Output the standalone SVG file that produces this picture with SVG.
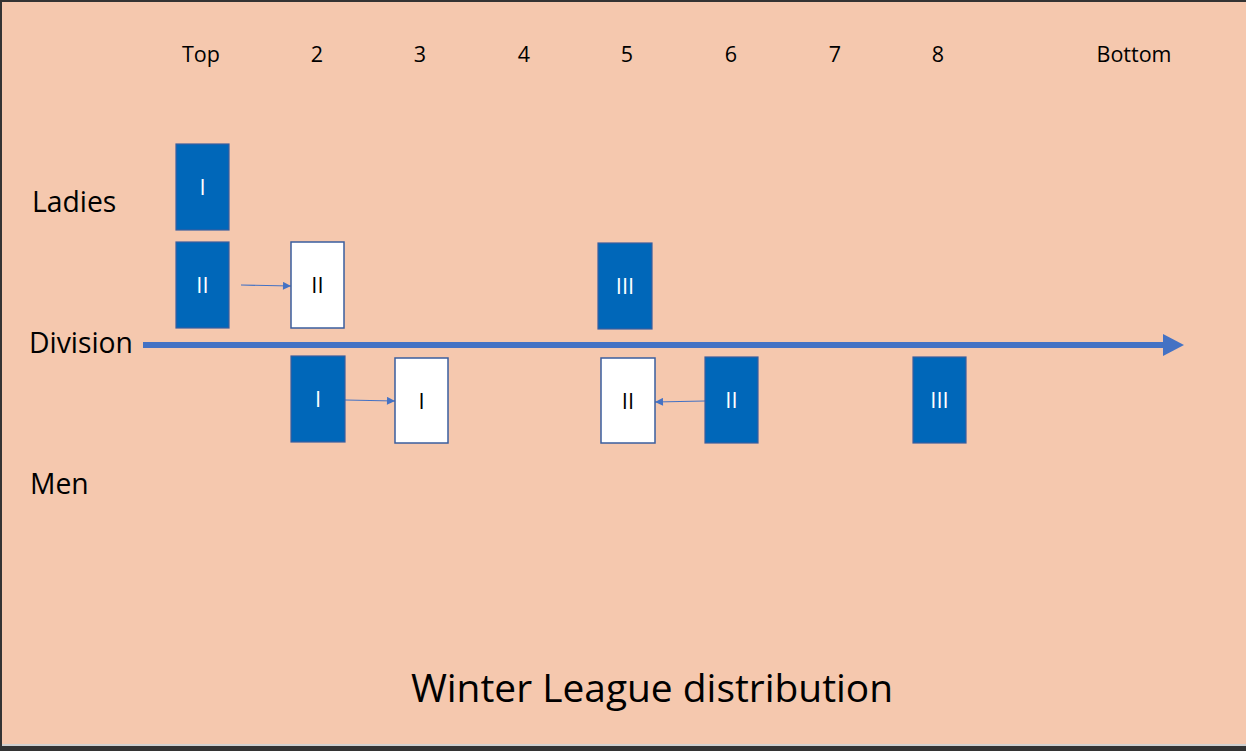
<svg xmlns="http://www.w3.org/2000/svg" width="1246" height="751" viewBox="0 0 1246 751">
<style>
text{font-family:"Open Sans","Liberation Sans",sans-serif;font-variant-ligatures:none}
.bg{fill:#F5C8AE}
.blue{fill:#0067B9;stroke:#3A5E9E;stroke-width:1.2}
.white{fill:#FFFFFF;stroke:#3A5E9E;stroke-width:1.5}
.wt{fill:#FFFFFF;font-size:22px;text-anchor:middle}
.bt{fill:#000000;font-size:22px;text-anchor:middle}
.col{fill:#000000;font-size:21.5px;text-anchor:middle}
.row{fill:#000000;font-size:28.3px}
.title{fill:#000000;font-size:38.9px;text-anchor:middle}
.thin{stroke:#4472C4;stroke-width:1.2;fill:none}
</style>
<defs>
<marker id="ah" viewBox="0 0 10 10" refX="10" refY="5" markerWidth="10" markerHeight="8" markerUnits="userSpaceOnUse" orient="auto">
<path d="M0,0 L10,5 L0,10 Z" fill="#4472C4"/>
</marker>
</defs>
<rect x="0" y="0" width="1246" height="751" fill="#333333"/>
<rect class="bg" x="2" y="2" width="1244" height="742"/>
<rect x="2" y="744" width="1244" height="2" fill="#D0D0D0"/>
<g id="labels">
<text class="col" x="201" y="62">Top</text>
<text class="col" x="317" y="62">2</text>
<text class="col" x="420" y="62">3</text>
<text class="col" x="524" y="62">4</text>
<text class="col" x="627" y="62">5</text>
<text class="col" x="731" y="62">6</text>
<text class="col" x="835" y="62">7</text>
<text class="col" x="938" y="62">8</text>
<text class="col" x="1134" y="62">Bottom</text>
<text class="row" x="32" y="212">Ladies</text>
<text class="row" x="29" y="353">Division</text>
<text class="row" x="30" y="494">Men</text>
<text class="title" x="652" y="702">Winter League distribution</text>
</g>
<g id="connectors">
<line x1="143" y1="345" x2="1165" y2="345" stroke="#4472C4" stroke-width="6"/>
<path d="M1163,334 L1184,345 L1163,356 Z" fill="#4472C4"/>
<line class="thin" x1="241" y1="285" x2="291" y2="286" marker-end="url(#ah)"/>
<line class="thin" x1="345" y1="400" x2="395" y2="401" marker-end="url(#ah)"/>
<line class="thin" x1="705" y1="401" x2="655" y2="402" marker-end="url(#ah)"/>
</g>
<g id="ladies-I"><rect class="blue" x="176" y="144" width="53" height="86"/><text class="wt" x="202.5" y="195">I</text></g>
<g id="ladies-II"><rect class="blue" x="176" y="242" width="53" height="86"/><text class="wt" x="202.5" y="293">II</text></g>
<g id="ladies-II-moved"><rect class="white" x="291" y="242" width="53" height="86"/><text class="bt" x="317.5" y="293">II</text></g>
<g id="ladies-III"><rect class="blue" x="598" y="243" width="54" height="86"/><text class="wt" x="625" y="294">III</text></g>
<g id="men-I"><rect class="blue" x="291" y="356" width="54" height="86"/><text class="wt" x="318" y="407">I</text></g>
<g id="men-I-moved"><rect class="white" x="395" y="358" width="53" height="85"/><text class="bt" x="421.5" y="409">I</text></g>
<g id="men-II-moved"><rect class="white" x="601" y="358" width="54" height="85"/><text class="bt" x="628" y="409">II</text></g>
<g id="men-II"><rect class="blue" x="705" y="357" width="53" height="86"/><text class="wt" x="731.5" y="408">II</text></g>
<g id="men-III"><rect class="blue" x="913" y="357" width="53" height="86"/><text class="wt" x="939.5" y="408">III</text></g>
</svg>
